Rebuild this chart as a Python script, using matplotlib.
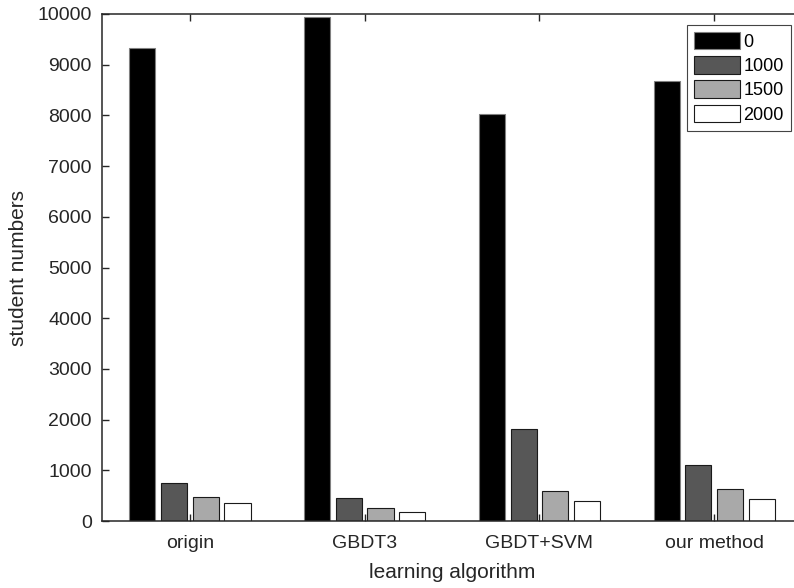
import matplotlib
matplotlib.use('Agg')
import matplotlib.pyplot as plt
import numpy as np

categories = ['origin', 'GBDT3', 'GBDT+SVM', 'our method']
series_labels = ['0', '1000', '1500', '2000']
vals_0 = [9330, 9935, 8020, 8670]
vals_1000 = [744, 460, 1808, 1105]
vals_1500 = [467, 250, 592, 625]
vals_2000 = [361, 171, 394, 428]
y_ticks = [0, 1000, 2000, 3000, 4000, 5000, 6000, 7000, 8000, 9000, 10000]

series = [vals_0, vals_1000, vals_1500, vals_2000]
colors = ['#000000', '#575757', '#a9a9a9', '#ffffff']
edges = ['#808080', '#1a1a1a', '#1a1a1a', '#1a1a1a']

plt.rcParams['font.family'] = ['Liberation Sans', 'DejaVu Sans']
W, H = 794, 588
fig = plt.figure(figsize=(W / 100, H / 100), dpi=100)
ax_left, ax_right, ax_bottom, ax_top = 101.7, 801.4, 521.0, 14.0
ax = fig.add_axes([ax_left / W, 1 - ax_bottom / H, (ax_right - ax_left) / W, (ax_bottom - ax_top) / H])

x = np.arange(1, len(categories) + 1)
offsets = [-0.272, -0.0906, 0.0906, 0.272]
bw = 0.149
for vals, off, c, ec, lab in zip(series, offsets, colors, edges, series_labels):
    ax.bar(x + off, vals, width=bw, color=c, edgecolor=ec, linewidth=0.8, label=lab, zorder=2)

ax.set_xlim(0.4946, 4.5)
ax.set_ylim(0, 10000)
ax.set_xticks(x)
ax.set_xticklabels(categories)
ax.set_yticks(y_ticks)
ax.set_yticklabels([str(v) for v in y_ticks])

spc = '#262626'
for s in ['left', 'top', 'bottom', 'right']:
    ax.spines[s].set_color(spc)
    ax.spines[s].set_linewidth(1.1)
ax.tick_params(axis='both', direction='in', length=5, width=1.0, color=spc,
               labelsize=14, labelcolor='#262626', top=True, right=True)
ax.tick_params(axis='x', pad=10)
ax.tick_params(axis='y', pad=7)

ax.set_xlabel('learning algorithm', fontsize=15, color='#262626')
ax.xaxis.set_label_coords(452 / W, 1 - 563 / H, transform=fig.transFigure)
ax.set_ylabel('student numbers', fontsize=15, color='#262626')
ax.yaxis.set_label_coords(28 / W, 0.5 * ((1 - ax_bottom / H) + (1 - ax_top / H)), transform=fig.transFigure)

leg = ax.legend(loc='upper right', bbox_to_anchor=(791 / W, 1 - 25 / H),
                bbox_transform=fig.transFigure, borderaxespad=0,
                fancybox=False, shadow=False, framealpha=1, edgecolor='#444444',
                fontsize=13, handlelength=2.55, handleheight=1.1,
                labelspacing=0.3, handletextpad=0.22, borderpad=0.39)
leg.get_frame().set_linewidth(0.8)
leg.set_zorder(5)

fig.savefig('out.png', dpi=100)
